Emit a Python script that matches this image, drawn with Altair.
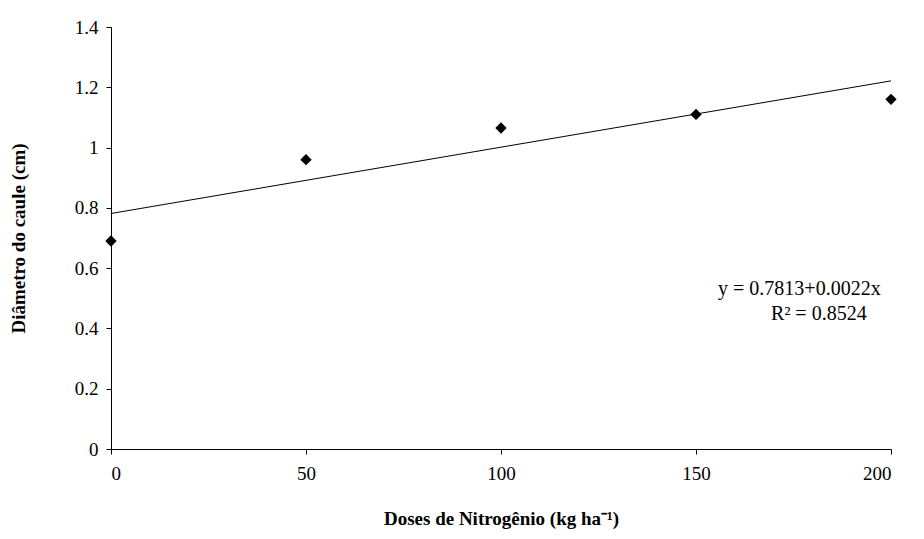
import altair as alt
import pandas as pd

doses = [0, 50, 100, 150, 200]
diametro = [0.69, 0.96, 1.065, 1.11, 1.16]
fit_x = [0, 200]
fit_y = [0.7813, 0.7813 + 0.0022 * 200]

df = pd.DataFrame({"dose": doses, "diam": diametro})
df_fit = pd.DataFrame({"dose": fit_x, "diam": fit_y})
df_txt = pd.DataFrame({"dose": [176.5, 181.5], "diam": [0.53, 0.448],
                       "t": ["y = 0.7813+0.0022x", "R² = 0.8524"]})

FONT = "Liberation Serif"
x = alt.X("dose:Q", scale=alt.Scale(domain=[0, 200], nice=False),
          axis=alt.Axis(values=doses, title="Doses de Nitrogênio (kg ha⁻¹)",
                        titlePadding=26, format="d", labelPadding=10))
y = alt.Y("diam:Q", scale=alt.Scale(domain=[0, 1.4], nice=False),
          axis=alt.Axis(values=[0, 0.2, 0.4, 0.6, 0.8, 1, 1.2, 1.4],
                        title="Diâmetro do caule (cm)", titlePadding=46,
                        format="~g", labelPadding=8))

pts = alt.Chart(df).mark_point(shape="diamond", filled=True, color="black",
                               size=130, opacity=1).encode(x=x, y=y)
line = alt.Chart(df_fit).mark_line(color="black", strokeWidth=1).encode(x=x, y=y)
txt = alt.Chart(df_txt).mark_text(font=FONT, fontSize=20, color="black").encode(
    x="dose:Q", y="diam:Q", text="t:N")

chart = (line + pts + txt).properties(
    width=780, height=422,
    autosize=alt.AutoSizeParams(type="none"),
    padding={"left": 103, "top": 19, "right": 17, "bottom": 82},
).configure(background="white").configure_view(stroke=None).configure_axis(
    grid=False, domainColor="black", tickColor="black", labelColor="black",
    titleColor="black", labelFont=FONT, titleFont=FONT, labelFontSize=19,
    titleFontSize=19, titleFontWeight="bold", tickSize=5,
)

chart.save("out.html", embed_options={"renderer": "svg", "actions": False})
